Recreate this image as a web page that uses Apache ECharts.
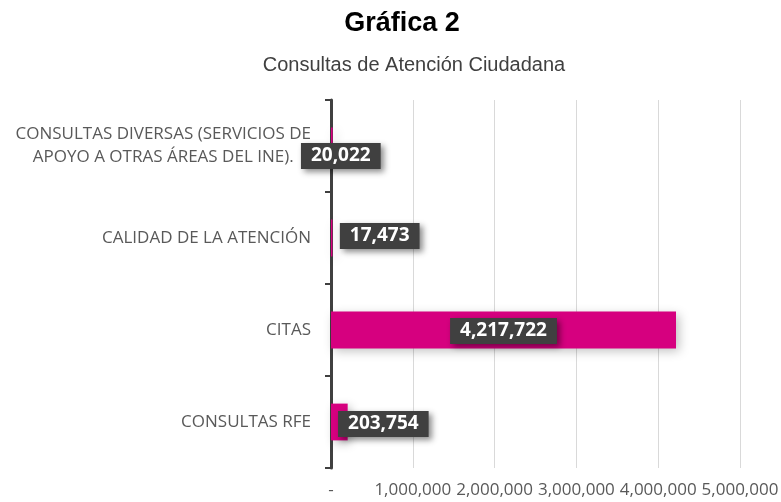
<!DOCTYPE html>
<html>
<head>
<meta charset="utf-8">
<script src="https://cdn.jsdelivr.net/npm/echarts@6/dist/echarts.min.js"></script>
<style>
  html, body { margin: 0; padding: 0; background: #fff; }
  #main { width: 781px; height: 502px; }
</style>
</head>
<body>
<div id="main"></div>
<script>
// categorias de abajo hacia arriba
var categories = [
  'CONSULTAS RFE',
  'CITAS',
  'CALIDAD DE LA ATENCIÓN',
  'CONSULTAS DIVERSAS (SERVICIOS DE\nAPOYO A OTRAS ÁREAS DEL INE).'
];
var values = [203754, 4217722, 17473, 20022];
var xTicks = [0, 1000000, 2000000, 3000000, 4000000, 5000000];

// desplazamiento de cada etiqueta (como en el Excel original)
var labelOffsets = [[44, 2], [0, 1], [48, -2], [9, 10]];

function fmt(n) {
  if (n === 0) return '-';
  return String(n).replace(/\B(?=(\d{3})+(?!\d))/g, ',');
}

var myChart = echarts.init(document.getElementById('main'));

var option = {
  animation: false,
  title: [
    {
      text: 'Gráfica 2',
      left: 397, top: 5, textAlign: 'center',
      textStyle: { fontFamily: 'Liberation Sans', fontSize: 27, fontWeight: 'bold', color: '#000' }
    },
    {
      text: 'Consultas de Atención Ciudadana',
      left: 409, top: 50, textAlign: 'center',
      textStyle: { fontFamily: 'Liberation Sans', fontSize: 20, fontWeight: 'normal', color: '#404040' }
    }
  ],
  grid: { left: 331, right: 41, top: 100, bottom: 34, containLabel: false, outerBoundsMode: 'none' },
  xAxis: {
    type: 'value',
    min: xTicks[0],
    max: xTicks[xTicks.length - 1],
    interval: 1000000,
    axisLine: { show: false },
    axisTick: { show: false },
    splitLine: { show: true, lineStyle: { color: '#d9d9d9', width: 1 } },
    axisLabel: {
      formatter: function (v) { return fmt(v); },
      fontFamily: 'Open Sans', fontSize: 17, color: '#595959', margin: 14
    }
  },
  yAxis: {
    type: 'category',
    data: categories,
    axisLine: { show: true, lineStyle: { color: '#404040', width: 3 } },
    axisTick: { show: true, length: 6, lineStyle: { color: '#404040', width: 2 } },
    axisLabel: {
      margin: 20,
      fontFamily: 'Open Sans', fontSize: 17, color: '#595959', lineHeight: 23,
      formatter: function (v, i) {
        return i === 3 ? '{c|' + v + '}' : v;
      },
      rich: {
        c: { align: 'center', fontFamily: 'Open Sans', fontSize: 17, color: '#595959', lineHeight: 23 }
      }
    }
  },
  series: [
    {
      type: 'bar',
      barCategoryGap: '60%',
      data: values.map(function (v, i) {
        return {
          value: v,
          label: { offset: labelOffsets[i] }
        };
      }),
      itemStyle: {
        color: '#d6007f',
        shadowBlur: 10,
        shadowColor: 'rgba(0,0,0,0.25)',
        shadowOffsetX: 3,
        shadowOffsetY: 3
      },
      label: {
        show: true,
        position: 'inside',
        formatter: function (p) { return fmt(p.value); },
        fontFamily: 'Open Sans', fontSize: 19, fontWeight: 'bold', color: '#fff',
        backgroundColor: '#404040',
        padding: [4, 10, 3, 10],
        shadowBlur: 6,
        shadowColor: 'rgba(0,0,0,0.45)',
        shadowOffsetX: 3,
        shadowOffsetY: 3
      }
    }
  ]
};
myChart.setOption(option);
</script>
</body>
</html>
